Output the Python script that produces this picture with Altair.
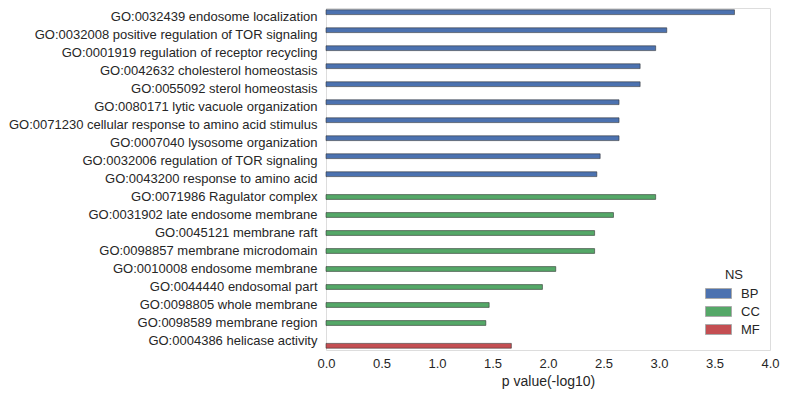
import altair as alt
import pandas as pd

terms = [
    "GO:0032439 endosome localization",
    "GO:0032008 positive regulation of TOR signaling",
    "GO:0001919 regulation of receptor recycling",
    "GO:0042632 cholesterol homeostasis",
    "GO:0055092 sterol homeostasis",
    "GO:0080171 lytic vacuole organization",
    "GO:0071230 cellular response to amino acid stimulus",
    "GO:0007040 lysosome organization",
    "GO:0032006 regulation of TOR signaling",
    "GO:0043200 response to amino acid",
    "GO:0071986 Ragulator complex",
    "GO:0031902 late endosome membrane",
    "GO:0045121 membrane raft",
    "GO:0098857 membrane microdomain",
    "GO:0010008 endosome membrane",
    "GO:0044440 endosomal part",
    "GO:0098805 whole membrane",
    "GO:0098589 membrane region",
    "GO:0004386 helicase activity",
]
ns = ["BP"] * 10 + ["CC"] * 8 + ["MF"]
pvals = [3.68, 3.07, 2.97, 2.83, 2.83, 2.64, 2.64, 2.64, 2.47, 2.44,
         2.97, 2.59, 2.42, 2.42, 2.07, 1.95, 1.47, 1.44,
         1.67]

ns_domain = ["BP", "CC", "MF"]
ns_colors = ["#4C72B0", "#55A868", "#C44E52"]
x_ticks = [0.0, 0.5, 1.0, 1.5, 2.0, 2.5, 3.0, 3.5, 4.0]

df = pd.DataFrame({"term": terms, "NS": ns, "p": pvals})

FONT = "Liberation Sans"
TXT = "#262626"

chart = alt.Chart(df).mark_bar(
    stroke="#2b2b2b", strokeOpacity=0.55, strokeWidth=1
).encode(
    y=alt.Y("term:N", sort=terms,
            scale=alt.Scale(paddingInner=0.2, paddingOuter=0.1),
            axis=alt.Axis(title=None, ticks=False, domain=False, grid=False,
                          labelFontSize=13, labelColor=TXT, labelFont=FONT,
                          labelPadding=9, labelLimit=600)),
    yOffset=alt.YOffset("NS:N", sort=ns_domain,
                        scale=alt.Scale(domain=ns_domain, paddingInner=0, paddingOuter=0)),
    x=alt.X("p:Q", scale=alt.Scale(domain=[0, 4], nice=False),
            axis=alt.Axis(title="p value(-log10)", values=x_ticks, format=".1f",
                          ticks=False, domain=False, grid=False,
                          labelFontSize=13, labelColor=TXT, labelFont=FONT,
                          labelPadding=7, labelFlush=False,
                          titleFontSize=14, titleFontWeight="normal",
                          titleColor=TXT, titleFont=FONT, titlePadding=4)),
    color=alt.Color("NS:N", scale=alt.Scale(domain=ns_domain, range=ns_colors),
                    legend=alt.Legend(
                        title="NS", orient="none", legendX=382, legendY=261,
                        titleFontSize=13, titleFontWeight="normal", titleColor=TXT,
                        titleFont=FONT, titleAnchor="middle", titlePadding=1,
                        labelFontSize=13, labelColor=TXT, labelFont=FONT,
                        labelOffset=12,
                        symbolType="M-1.3,-0.5L1.3,-0.5L1.3,0.5L-1.3,0.5Z",
                        symbolSize=400, symbolStrokeColor="#aaaaaa",
                        symbolStrokeWidth=1, symbolOpacity=1,
                        rowPadding=0)),
).properties(
    width=444, height=342,
    autosize=alt.AutoSizeParams(type="none"),
    padding={"left": 318, "top": 0, "right": 10, "bottom": 39},
).configure_view(
    stroke=None
).configure(
    background="white"
)

chart.save("out.html", embed_options={"renderer": "svg", "actions": False})
